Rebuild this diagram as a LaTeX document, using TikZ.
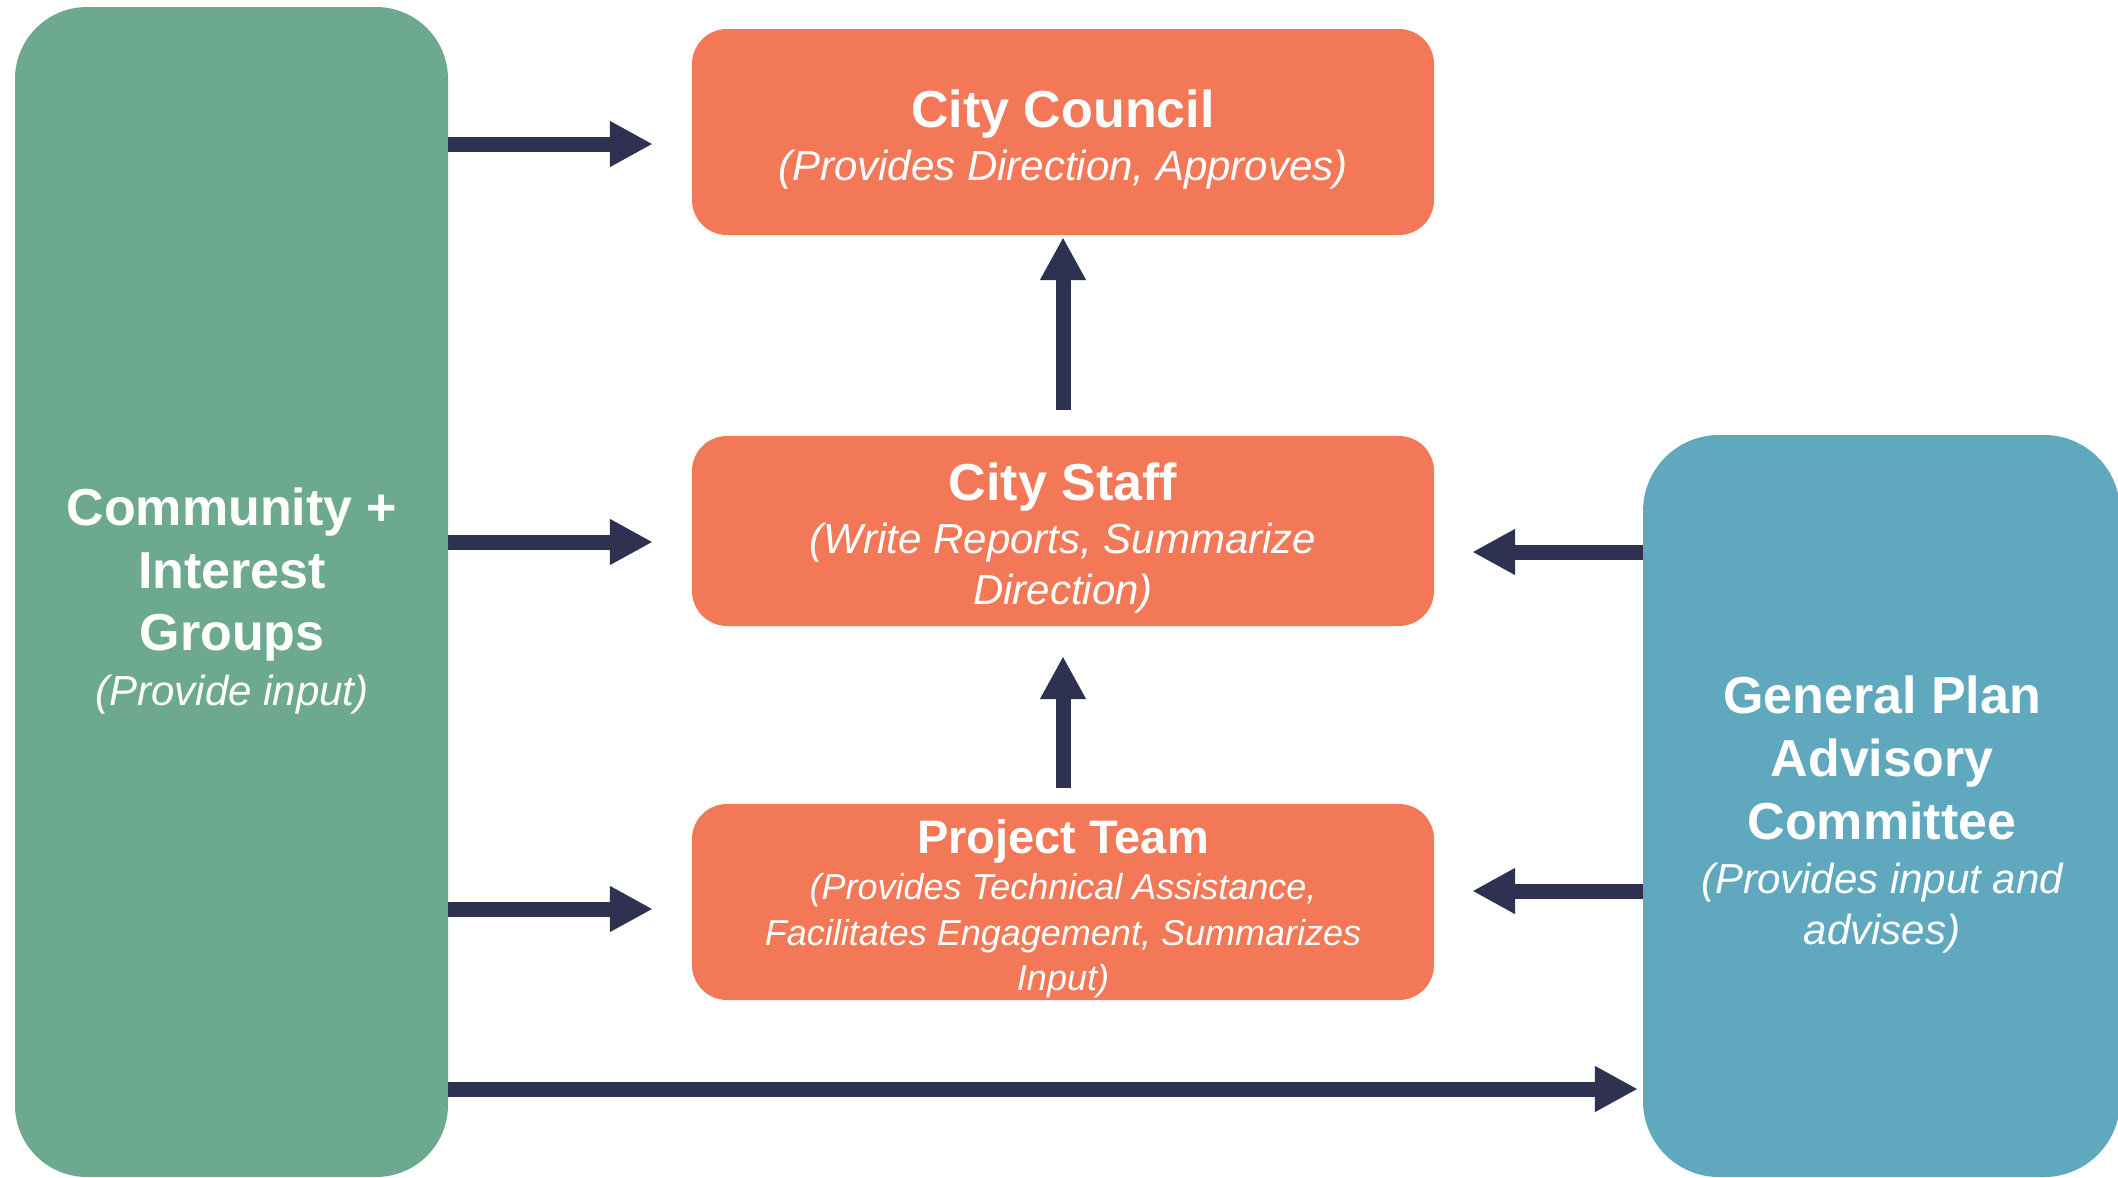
\documentclass[tikz,border=0pt]{standalone}
\usepackage{fontspec}
\setmainfont{Liberation Sans}
\usetikzlibrary{arrows.meta}
\definecolor{grn}{HTML}{6DA98F}
\definecolor{org}{HTML}{F27857}
\definecolor{blu}{HTML}{5FA8BD}
\definecolor{nav}{HTML}{2E3250}
\begin{document}
\begin{tikzpicture}[x=1pt,y=-1pt,
  box/.style={fill=org, draw=none, rounded corners=35pt, inner sep=0pt, minimum width=742pt},
  side/.style={draw=none, rounded corners=72pt, inner sep=0pt},
  arr/.style={draw=nav, line width=15pt, -{Triangle[length=43pt,width=43pt]}},
  ttl/.style={text=white, font=\bfseries\fontsize{52}{60}\selectfont, anchor=base, inner sep=0pt},
  ttlb/.style={text=white, font=\bfseries\fontsize{47}{55}\selectfont, anchor=base, inner sep=0pt},
  sub/.style={text=white, font=\itshape\fontsize{42}{50}\selectfont, anchor=base, inner sep=0pt},
  subb/.style={text=white, font=\itshape\fontsize{36}{44}\selectfont, anchor=base, inner sep=0pt},
]
\useasboundingbox[fill=white] (0,0) rectangle (2118,1178);

% boxes
\node[side, fill=grn, minimum width=433pt, minimum height=1170pt] (green) at (231.5,592) {};
\node[side, fill=blu, rounded corners=76pt, minimum width=477pt, minimum height=742pt] (blue) at (1881.5,806) {};
\node[box, minimum height=206pt] (cc) at (1063,132) {};
\node[box, minimum height=190pt] (cs) at (1063,531) {};
\node[box, minimum height=196pt] (pt) at (1063,902) {};

% texts
\node[ttl] (cc1) at (1063,127) {City Council};
\node[sub] (cc2) at (1063,180) {(Provides Direction, Approves)};

\node[ttl] (cs1) at (1063,500) {City Staff};
\node[sub] (cs2) at (1063,553) {(Write Reports, Summarize};
\node[sub] (cs3) at (1063,604) {Direction)};

\node[ttlb] (pt1) at (1063,853) {Project Team};
\node[subb] (pt2) at (1063,899) {(Provides Technical Assistance,};
\node[subb] (pt3) at (1063,945) {Facilitates Engagement, Summarizes};
\node[subb] (pt4) at (1063,990) {Input)};

\node[ttl] (g1) at (232,525) {Community +};
\node[ttl] (g2) at (232,588) {Interest};
\node[ttl] (g3) at (232,650) {Groups};
\node[sub] (g4) at (232,705) {(Provide input)};

\node[ttl] (b1) at (1882,713) {General Plan};
\node[ttl] (b2) at (1882,776) {Advisory};
\node[ttl] (b3) at (1882,839) {Committee};
\node[sub] (b4) at (1882,893) {(Provides input and};
\node[sub] (b5) at (1882,944) {advises)};

% arrow levels
\coordinate (h1) at (0,144);
\coordinate (h2) at (0,542);
\coordinate (h3) at (0,909);
\coordinate (h4) at (0,1089);
\coordinate (h5) at (0,552);
\coordinate (h6) at (0,891);

\draw[arr, shorten >=39pt] (green.east |- h1) -- (cc.west |- h1);
\draw[arr, shorten >=39pt] (green.east |- h2) -- (cs.west |- h2);
\draw[arr, shorten >=39pt] (green.east |- h3) -- (pt.west |- h3);
\draw[arr, shorten >=5pt] (green.east |- h4) -- (blue.west |- h4);

\draw[arr, shorten >=38pt] (blue.west |- h5) -- (cs.east |- h5);
\draw[arr, shorten >=38pt] (blue.west |- h6) -- (pt.east |- h6);

\draw[arr, shorten <=26pt, shorten >=2pt] (cs.north) -- (cc.south);
\draw[arr, shorten <=16pt, shorten >=30pt] (pt.north) -- (cs.south);
\end{tikzpicture}
\end{document}
